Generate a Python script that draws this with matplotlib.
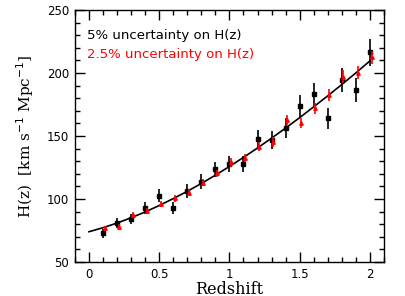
import matplotlib
matplotlib.use("Agg")
import matplotlib.pyplot as plt
from matplotlib.ticker import MultipleLocator
import numpy as np

# redshift bins
z = [0.1, 0.2, 0.3, 0.4, 0.5, 0.6, 0.7, 0.8, 0.9, 1.0,
     1.1, 1.2, 1.3, 1.4, 1.5, 1.6, 1.7, 1.8, 1.9, 2.0]

# 5% uncertainty points (black)
h_5 = [72.8, 81.2, 84.0, 93.0, 102.6, 92.6, 106.3, 113.8, 123.5, 127.5,
       128.0, 147.4, 147.0, 156.1, 174.1, 183.3, 164.0, 194.4, 186.5, 216.4]

# 2.5% uncertainty points (red)
h_25 = [76.7, 78.1, 87.3, 90.7, 96.0, 100.5, 105.0, 113.0, 120.4, 129.0,
        132.3, 141.5, 145.2, 162.7, 160.0, 172.0, 182.5, 197.1, 200.3, 212.4]

# fiducial model curve
z_model = [0.0, 0.1, 0.2, 0.3, 0.4, 0.5, 0.6, 0.7, 0.8, 0.9, 1.0,
           1.1, 1.2, 1.3, 1.4, 1.5, 1.6, 1.7, 1.8, 1.9, 2.0]
h_model = [74.0, 77.2, 80.9, 85.1, 89.7, 94.8, 100.3, 106.1, 112.3, 118.9, 125.8,
           133.0, 140.5, 148.3, 156.3, 164.6, 173.2, 181.9, 190.9, 200.1, 209.6]

z = np.array(z)
h_5 = np.array(h_5)
h_25 = np.array(h_25)

fig = plt.figure(figsize=(4.05, 2.96), dpi=100)
ax = fig.add_axes([0.185, 0.115, 0.763, 0.851])

ax.plot(z_model, h_model, color="black", lw=1.2, zorder=1)
ax.errorbar(z, h_5, yerr=0.05 * h_5, fmt="s", color="black", ms=2.5,
            elinewidth=1.2, capsize=0, zorder=2)
ax.errorbar(z + 0.012, h_25, yerr=0.025 * h_25, fmt="^", color="red", ms=2.5,
            elinewidth=1.2, capsize=0, zorder=3)

ax.set_xlim(-0.1, 2.1)
ax.set_ylim(50, 250)
ax.xaxis.set_major_locator(MultipleLocator(0.5))
ax.xaxis.set_minor_locator(MultipleLocator(0.1))
ax.yaxis.set_major_locator(MultipleLocator(50))
ax.yaxis.set_minor_locator(MultipleLocator(10))
ax.set_xticks([0, 0.5, 1, 1.5, 2])
ax.set_xticklabels(["0", "0.5", "1", "1.5", "2"])
ax.tick_params(which="both", direction="in", top=True, right=True, labelsize=8.5)
ax.tick_params(which="major", length=7, width=1, pad=4)
ax.tick_params(which="minor", length=3.5, width=1)
for s in ax.spines.values():
    s.set_linewidth(1)

ax.set_xlabel("Redshift", family="DejaVu Serif", fontsize=11.5, labelpad=0)
ax.set_ylabel(r"H(z)  [km s$^{-1}$ Mpc$^{-1}$]", family="DejaVu Serif",
              fontsize=11, labelpad=8)

ax.text(0.04, 0.9, "5% uncertainty on H(z)", transform=ax.transAxes,
        fontsize=9.5, color="black", va="center")
ax.text(0.04, 0.825, "2.5% uncertainty on H(z)", transform=ax.transAxes,
        fontsize=9.5, color="red", va="center")

fig.savefig("out.png", dpi=100)
